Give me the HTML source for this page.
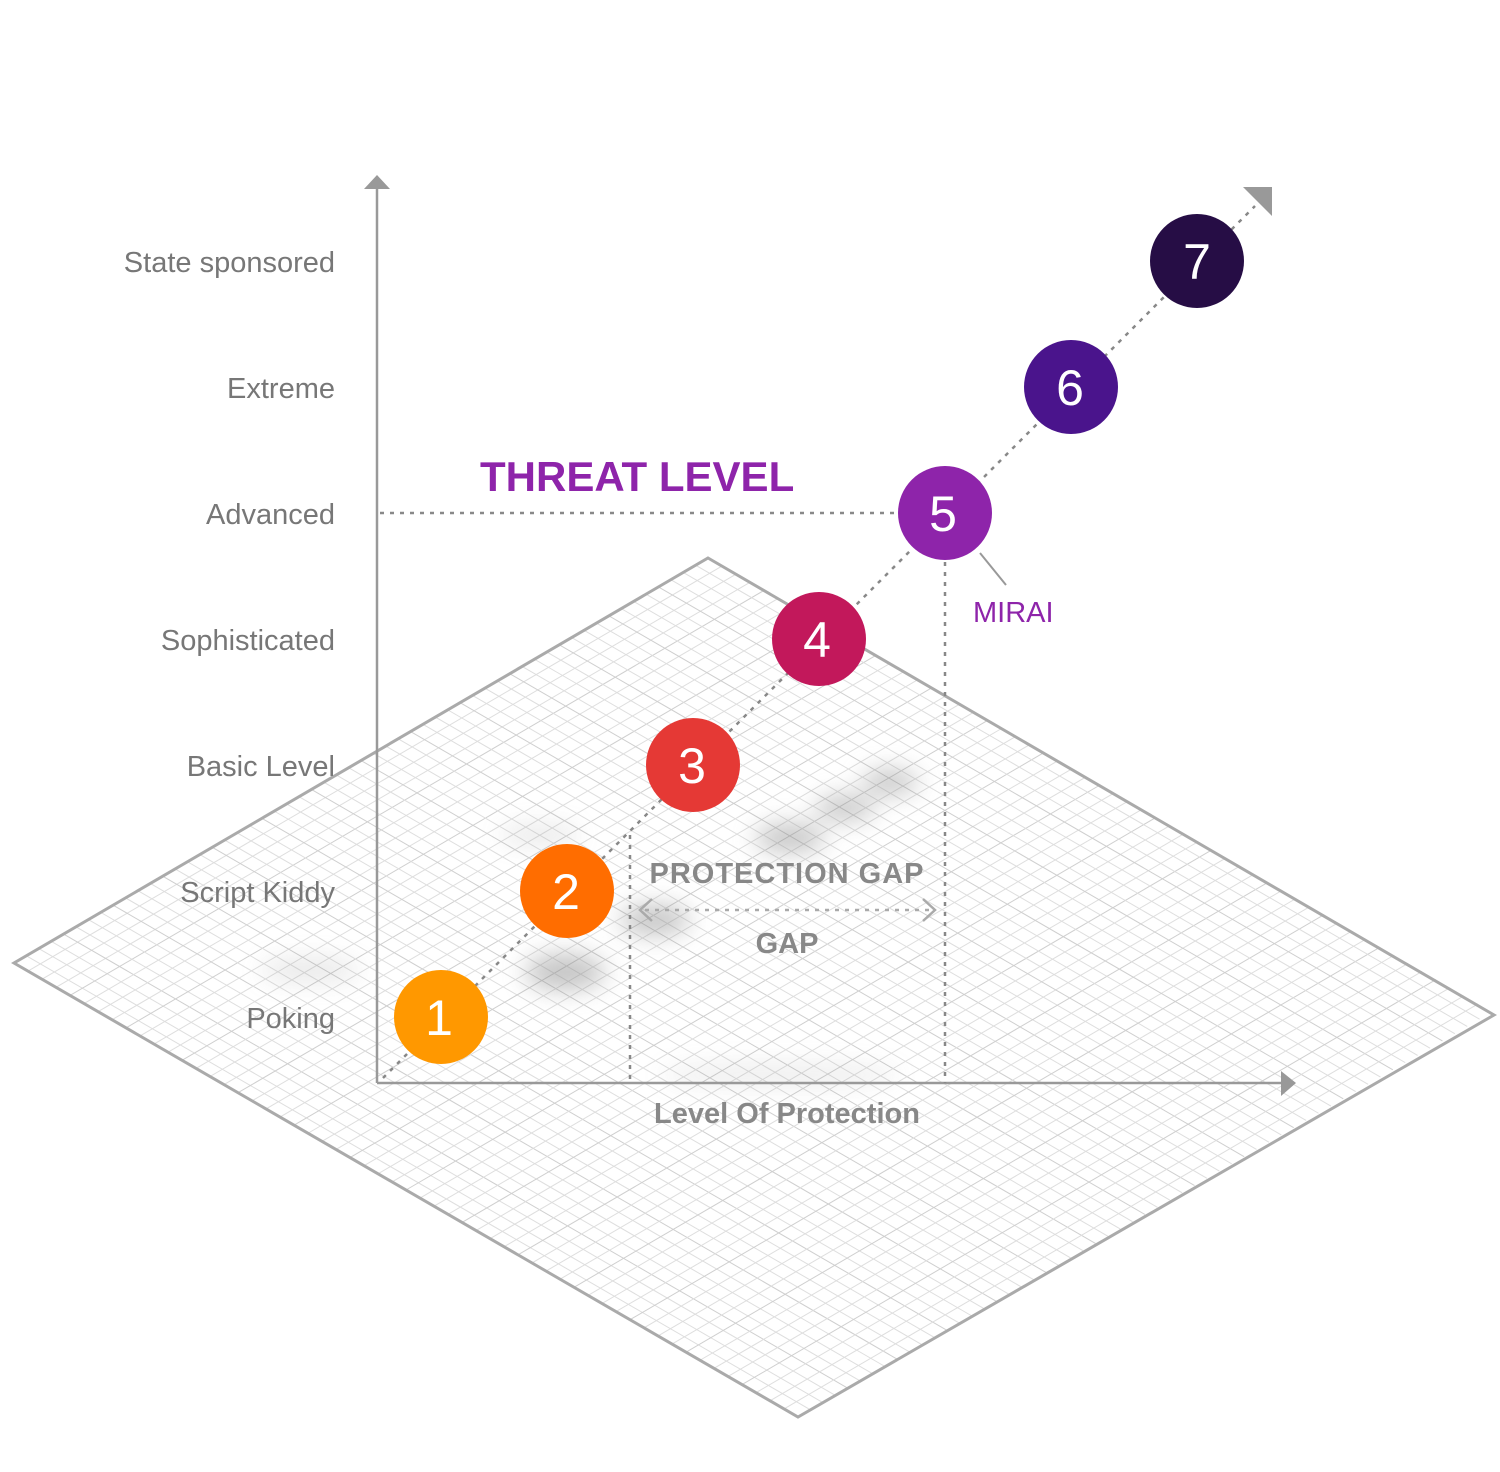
<!DOCTYPE html>
<html><head><meta charset="utf-8"><style>
html,body{margin:0;padding:0;background:#fff}
svg{display:block}
text{font-family:"Liberation Sans",sans-serif}
</style></head><body>
<svg id="s" width="1500" height="1472" viewBox="0 0 1500 1472" xmlns="http://www.w3.org/2000/svg">
<defs>
<filter id="b" x="-50%" y="-50%" width="200%" height="200%"><feGaussianBlur stdDeviation="12"/></filter>
</defs>
<g id="grid" stroke="#dedede" stroke-width="1"></g>
<g filter="url(#b)" fill="#888" opacity="0.5">
<ellipse cx="565" cy="972" rx="40" ry="18"/>
<ellipse cx="655" cy="920" rx="35" ry="15"/>
<ellipse cx="790" cy="838" rx="35" ry="14"/>
<ellipse cx="845" cy="808" rx="30" ry="12"/>
<ellipse cx="890" cy="782" rx="28" ry="12"/>
<ellipse cx="310" cy="970" rx="50" ry="12" opacity="0.4"/>
<ellipse cx="780" cy="1075" rx="120" ry="12" opacity="0.3"/>
<ellipse cx="540" cy="835" rx="40" ry="10" opacity="0.4"/>
</g>
<polygon points="708,558 1494,1015 798,1417 14,963" fill="none" stroke="#aaa" stroke-width="3"/>
<!-- axes -->
<line x1="377" y1="185" x2="377" y2="1083" stroke="#999" stroke-width="2.5"/>
<polygon points="364,189 377,175 390,189" fill="#999"/>
<line x1="377" y1="1083" x2="1285" y2="1083" stroke="#999" stroke-width="2.5"/>
<polygon points="1281,1071 1296,1083 1281,1096" fill="#999"/>
<!-- dotted -->
<g stroke="#888" stroke-width="2.5" stroke-dasharray="4,6" fill="none">
<line x1="380" y1="513" x2="900" y2="513"/>
<line x1="945" y1="562" x2="945" y2="1083"/>
<line x1="630" y1="835" x2="630" y2="1083"/>
<line x1="383" y1="1078" x2="1255" y2="206"/>
<line x1="645" y1="910" x2="932" y2="910" stroke="#aaa"/>
</g>
<polyline points="652,899 640,910 652,921" fill="none" stroke="#aaa" stroke-width="2.5"/>
<polyline points="923,899 935,910 923,921" fill="none" stroke="#aaa" stroke-width="2.5"/>
<polygon points="1243,187 1272,187 1272,216" fill="#999"/>
<line x1="980" y1="553" x2="1006" y2="585" stroke="#999" stroke-width="2"/>
<!-- circles -->
<g font-size="50" fill="#fff" text-anchor="middle">
<circle cx="441" cy="1017" r="47" fill="#FF9800"/><text x="439" y="1035" fill="#fff">1</text>
<circle cx="567" cy="891" r="47" fill="#FF6D00"/><text x="566" y="909" fill="#fff">2</text>
<circle cx="693" cy="765" r="47" fill="#E53935"/><text x="692" y="783" fill="#fff">3</text>
<circle cx="819" cy="639" r="47" fill="#C2185B"/><text x="817" y="657" fill="#fff">4</text>
<circle cx="945" cy="513" r="47" fill="#8E24AA"/><text x="943" y="531" fill="#fff">5</text>
<circle cx="1071" cy="387" r="47" fill="#4A148C"/><text x="1070" y="405" fill="#fff">6</text>
<circle cx="1197" cy="261" r="47" fill="#260D45"/><text x="1197" y="279" fill="#fff">7</text>
</g>
<g font-size="29" fill="#777" text-anchor="end">
<text x="335" y="272">State sponsored</text>
<text x="335" y="398">Extreme</text>
<text x="335" y="524">Advanced</text>
<text x="335" y="650">Sophisticated</text>
<text x="335" y="776">Basic Level</text>
<text x="335" y="902">Script Kiddy</text>
<text x="335" y="1028">Poking</text>
</g>
<text x="480" y="491" font-size="42" font-weight="bold" fill="#8E24AA">THREAT LEVEL</text>
<text x="973" y="622" font-size="29" fill="#8E24AA">MIRAI</text>
<text x="787" y="883" font-size="29" font-weight="bold" fill="#888" text-anchor="middle" letter-spacing="1">PROTECTION GAP</text>
<text x="787" y="953" font-size="29" font-weight="bold" fill="#888" text-anchor="middle">GAP</text>
<text x="787" y="1123" font-size="29" font-weight="bold" fill="#888" text-anchor="middle">Level Of Protection</text>
</svg>
<script>
var g=document.getElementById('grid'),L=[14,963],T=[708,558],B=[798,1417],N=56,ns='http://www.w3.org/2000/svg';
function P(u,v){return [L[0]+u*(T[0]-L[0])+v*(B[0]-L[0]),L[1]+u*(T[1]-L[1])+v*(B[1]-L[1])];}
for(var i=1;i<N;i++){var t=i/N;
[[P(t,0),P(t,1)],[P(0,t),P(1,t)]].forEach(function(s){var l=document.createElementNS(ns,'line');
l.setAttribute('x1',s[0][0]);l.setAttribute('y1',s[0][1]);l.setAttribute('x2',s[1][0]);l.setAttribute('y2',s[1][1]);
if(i%4==0)l.setAttribute('stroke','#cfcfcf');g.appendChild(l);});}
</script>
</body></html>
